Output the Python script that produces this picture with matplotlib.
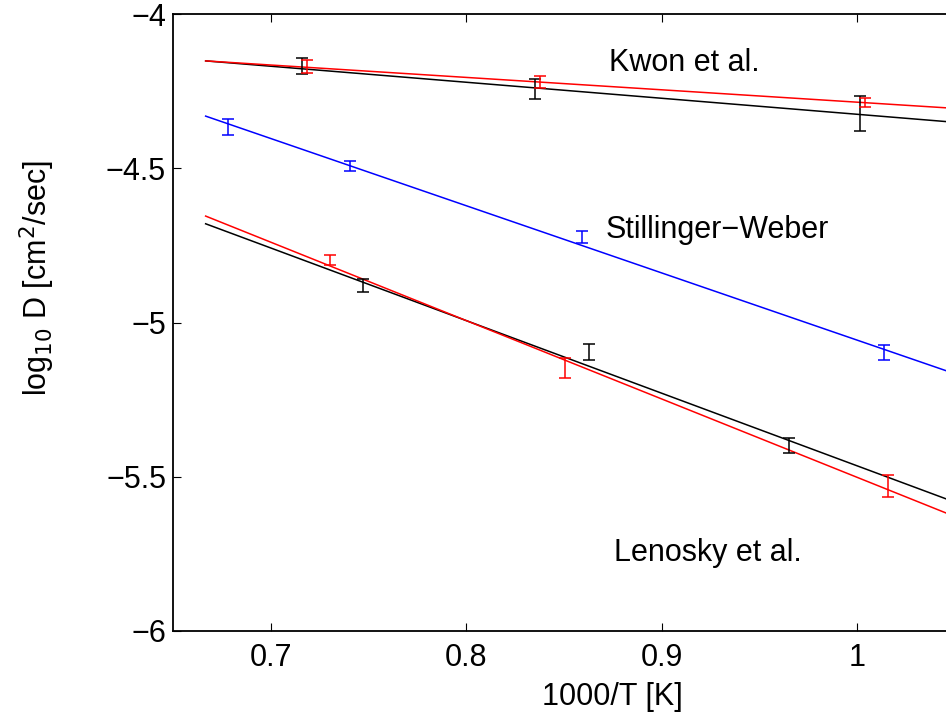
import matplotlib
matplotlib.use("Agg")
import matplotlib.pyplot as plt

plt.rcParams["font.family"] = ["Liberation Sans", "DejaVu Sans"]

# fitted Arrhenius lines (1000/T endpoints, log10 D)
fit_x = [0.6667, 1.1]
kwon_fit_black = [-4.152, -4.377]
kwon_fit_red = [-4.152, -4.326]
sw_fit = [-4.331, -5.275]
len_fit_black = [-4.680, -5.700]
len_fit_red = [-4.655, -5.756]

# simulation points with error bars
kwon_black_x = [0.7158, 0.835, 1.0014]
kwon_black_y = [-4.169, -4.243, -4.322]
kwon_black_err = [0.026, 0.032, 0.057]
kwon_red_x = [0.7187, 0.838, 1.0041]
kwon_red_y = [-4.170, -4.220, -4.286]
kwon_red_err = [0.021, 0.020, 0.015]

sw_x = [0.6781, 0.7406, 0.859, 1.0138]
sw_y = [-4.366, -4.492, -4.723, -5.098]
sw_err = [0.026, 0.016, 0.020, 0.025]

len_black_x = [0.747, 0.863, 0.965]
len_black_y = [-4.881, -5.096, -5.399]
len_black_err = [0.021, 0.026, 0.023]
len_red_x = [0.7303, 0.8504, 1.0159]
len_red_y = [-4.797, -5.147, -5.531]
len_red_err = [0.016, 0.032, 0.036]

x_ticks = [0.7, 0.8, 0.9, 1.0]
x_ticklabels = ["0.7", "0.8", "0.9", "1"]
y_ticks = [-6, -5.5, -5, -4.5, -4]
y_ticklabels = ["\u22126", "\u22125.5", "\u22125", "\u22124.5", "\u22124"]

fig = plt.figure(figsize=(9.46, 7.24), dpi=100)
# axes run past the right edge of the figure (cropped like the original)
ax = fig.add_axes([173 / 946, 93 / 724, (1052.6 - 173) / 946, 617 / 724])

lw = 1.1
ax.plot(fit_x, kwon_fit_black, color="black", lw=lw)
ax.plot(fit_x, kwon_fit_red, color="red", lw=lw)
ax.plot(fit_x, sw_fit, color="blue", lw=lw)
ax.plot(fit_x, len_fit_black, color="black", lw=lw)
ax.plot(fit_x, len_fit_red, color="red", lw=lw)

eb = dict(fmt="none", capsize=4, elinewidth=1.1, capthick=1.1)
ax.errorbar(kwon_black_x, kwon_black_y, yerr=kwon_black_err, ecolor="black", **eb)
ax.errorbar(kwon_red_x, kwon_red_y, yerr=kwon_red_err, ecolor="red", **eb)
ax.errorbar(sw_x, sw_y, yerr=sw_err, ecolor="blue", **eb)
ax.errorbar(len_black_x, len_black_y, yerr=len_black_err, ecolor="black", **eb)
ax.errorbar(len_red_x, len_red_y, yerr=len_red_err, ecolor="red", **eb)

ax.text(0.8729, -4.16, "Kwon et al.", fontsize=22, va="center", ha="left")
ax.text(0.8714, -4.70, "Stillinger\u2212Weber", fontsize=22, va="center", ha="left")
ax.text(0.8755, -5.747, "Lenosky et al.", fontsize=22, va="center", ha="left")

ax.set_xlim(0.65, 1.1)
ax.set_ylim(-6, -4)
ax.set_xticks(x_ticks)
ax.set_xticklabels(x_ticklabels)
ax.set_yticks(y_ticks)
ax.set_yticklabels(y_ticklabels)
ax.tick_params(direction="in", top=True, right=True, length=6, width=0.8,
               labelsize=22)
ax.tick_params(axis="x", pad=9)
ax.tick_params(axis="y", pad=5)
for s in ax.spines.values():
    s.set_linewidth(1.3)

ax.set_xlabel("1000/T [K]", fontsize=22, labelpad=6)
ax.set_ylabel("log$_{10}$ D [cm$^2$/sec]", fontsize=22)
ax.yaxis.set_label_coords(-0.132, 0.572)

fig.savefig("out.png", dpi=100)
